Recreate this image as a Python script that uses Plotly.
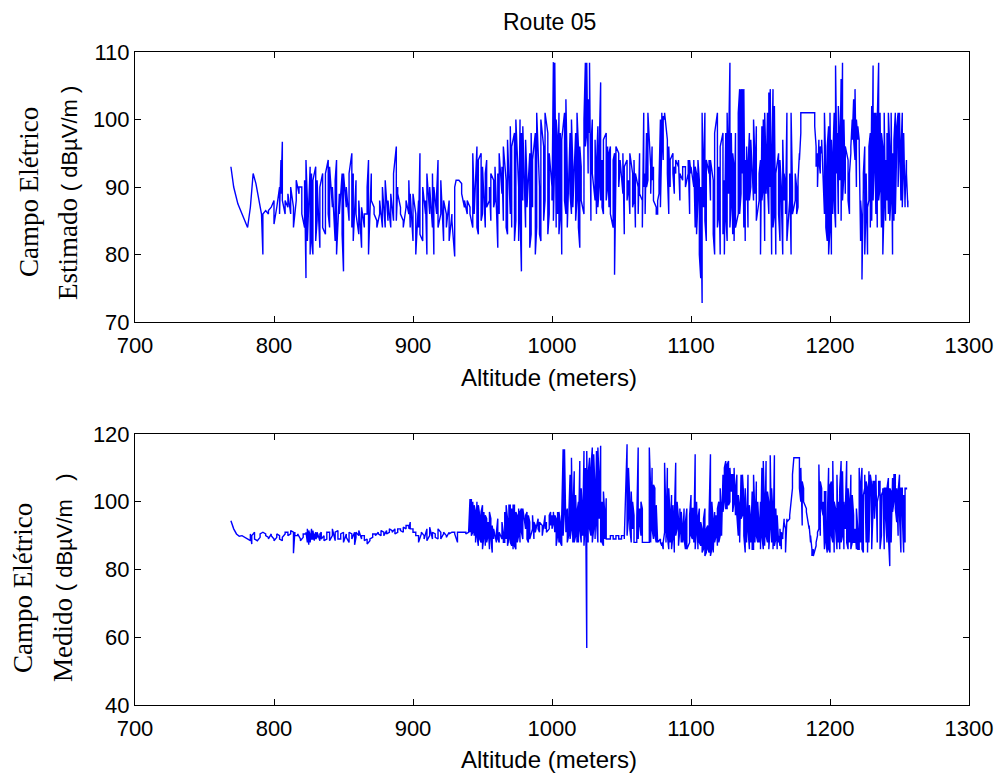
import plotly.graph_objects as go

# ---------------- Data ----------------
# Top panel: estimated field. Each altitude carries two successive readings.
alt_est = [
    769, 771, 774, 777, 780, 781, 783, 785, 787, 789,
    791, 792, 794, 796, 798, 800, 802, 804, 805, 806,
    808, 810, 812, 814, 816, 818, 820, 822, 823, 824,
    826, 827, 828, 830, 831, 833, 835, 837, 839, 840,
    842, 844, 845, 847, 849, 850, 852, 854, 856, 857,
    859, 861, 863, 865, 867, 868, 870, 872, 874, 876,
    878, 880, 882, 884, 886, 888, 889, 891, 893, 895,
    897, 898, 900, 902, 904, 905, 907, 909, 910, 912,
    914, 915, 917, 918, 920, 922, 924, 926, 928, 930,
    931, 933, 935, 937, 939, 941, 943, 944, 946, 947,
    949, 950, 952, 953, 955, 956, 958, 959, 961, 962,
    964, 965, 967, 968, 970, 971, 973, 974, 976, 977,
    978, 979, 981, 982, 984, 985, 986, 988, 989, 991,
    992, 994, 995, 997, 998, 1000, 1001, 1002, 1003, 1004,
    1005, 1006, 1007, 1009, 1010, 1011, 1013, 1014, 1015, 1017,
    1018, 1019, 1020, 1021, 1023, 1024, 1025, 1026, 1027, 1028,
    1029, 1031, 1032, 1033, 1034, 1035, 1036, 1037, 1039, 1040,
    1041, 1042, 1044, 1045, 1046, 1048, 1049, 1051, 1052, 1054,
    1055, 1056, 1058, 1059, 1060, 1062, 1063, 1065, 1066, 1067,
    1068, 1069, 1071, 1072, 1073, 1075, 1076, 1077, 1078, 1079,
    1080, 1081, 1083, 1084, 1085, 1087, 1088, 1089, 1091, 1092,
    1094, 1096, 1098, 1099, 1100, 1102, 1103, 1104, 1105, 1106,
    1107, 1108, 1109, 1110, 1111, 1113, 1114, 1116, 1117, 1119,
    1120, 1121, 1123, 1124, 1125, 1126, 1127, 1128, 1129, 1130,
    1131, 1132, 1134, 1135, 1136, 1137, 1138, 1139, 1140, 1141,
    1142, 1143, 1145, 1146, 1147, 1149, 1150, 1151, 1152, 1153,
    1154, 1155, 1156, 1157, 1158, 1159, 1160, 1161, 1163, 1164,
    1165, 1166, 1167, 1168, 1169, 1171, 1172, 1173, 1175, 1176,
    1177, 1178, 1179, 1181, 1183, 1185, 1187, 1189, 1190, 1191,
    1192, 1193, 1194, 1196, 1197, 1198, 1199, 1200, 1201, 1202,
    1203, 1204, 1205, 1206, 1207, 1208, 1209, 1210, 1211, 1213,
    1214, 1215, 1216, 1217, 1218, 1219, 1220, 1221, 1222, 1223,
    1224, 1225, 1226, 1227, 1228, 1229, 1230, 1231, 1232, 1233,
    1234, 1235, 1236, 1237, 1238, 1239, 1240, 1241, 1242, 1243,
    1244, 1245, 1246, 1247, 1248, 1249, 1250, 1251, 1252, 1253,
    1254, 1255, 1256,
]
campo_est = [
    93, 93, 90, 90, 87.5, 87.5, 86, 86, 84.5, 84.5, 84, 84, 87, 87, 92, 92, 90.5, 90.5, 88, 88,
    86, 86, 80, 86, 86.5, 86.5, 86, 86.5, 87, 87, 88, 84.5, 87, 87, 90, 86, 94, 89, 96.7, 88,
    86, 88, 87, 89, 86, 90, 87, 84, 88, 91, 89, 90, 90, 86, 84, 91, 76.5, 94, 88, 82,
    93, 80, 92, 82, 80, 91, 93, 82, 85, 91, 81, 90, 92, 84, 83, 92, 94, 86, 84, 93,
    87, 90, 82, 91, 94, 80, 89, 86, 92, 83, 77.5, 92, 87, 90, 85, 92, 95, 84, 92, 82,
    91, 86, 83, 88, 81, 87, 84, 86, 86, 90, 94, 80, 92, 88, 87, 86, 85, 84, 86, 88,
    84, 90, 84, 91, 85, 88, 84, 89, 85, 92, 96, 85, 90, 89, 87, 86, 85, 84, 87, 88,
    86, 91, 84, 89, 82, 89, 86, 80, 88, 84, 95, 83, 82, 90, 86, 88, 80, 92, 86, 90,
    84, 92, 80, 90, 86, 89, 94, 84, 86, 91, 82, 88, 86, 84, 88, 82, 86, 85, 79.7, 90,
    91, 91, 91, 91, 90.5, 89, 87, 88, 86, 88, 87, 86, 84, 95, 88, 86, 96, 84, 83, 94,
    95, 85, 86, 93, 84, 92, 94, 87, 88, 90, 85, 92, 91, 87, 88, 93, 81, 92, 86, 95,
    89, 93, 85, 96, 91, 84, 83, 97, 86, 99, 84, 96, 98, 82, 85, 100, 90, 82, 100, 86,
    77.5, 98, 88, 99, 84, 97, 91, 87, 95, 81, 83, 98, 87, 94, 98, 80, 84, 101, 90, 83,
    82, 100, 96, 85, 88, 101, 98, 83, 86, 95, 90, 88, 108.5, 85, 95, 108.4, 84, 100, 97, 86,
    101, 83, 86, 98, 80, 97, 101, 88, 86, 103, 92, 84, 98, 89, 86, 100, 93, 87, 98, 85,
    88, 101, 96, 84, 81, 96, 93, 88, 86, 100, 108.4, 96, 98, 108.4, 92, 103, 98, 108.4, 85, 96,
    100, 92, 88, 97, 86, 93, 99, 87, 90, 96, 105.5, 88, 94, 87, 86, 97, 98, 88, 90, 96,
    87, 95, 96, 86, 84, 94, 95, 77, 92, 96, 95, 90, 93, 94, 89, 95, 83, 93, 94, 88,
    90, 91, 86, 95, 92, 87, 88, 94, 84, 92, 90, 86, 95, 89, 88, 84, 101, 90, 92, 86,
    98, 90, 91, 101, 93, 89, 96, 91, 93, 88, 87, 86, 86, 88, 89, 91, 100, 87, 97, 101,
    94, 100.5, 100, 101, 97, 92, 86, 96, 90, 94, 95, 92, 89, 93, 92, 94, 93, 94, 88, 92,
    91, 93, 93, 90, 92, 94, 86, 94, 92, 93, 90, 94, 84, 93, 92, 83, 88, 94, 91, 80,
    76.5, 90, 72.8, 101, 87, 92, 101, 85, 82, 94, 92, 94, 88, 94, 91, 83, 80, 98, 101, 84,
    86, 93, 80, 96, 98, 83, 91, 80, 98, 86, 82, 101, 89, 95, 108.4, 84, 88, 98, 83, 95,
    93, 82, 98, 84, 86, 101, 104.5, 86, 89, 104.5, 92, 104.5, 84, 104.5, 82, 94, 88, 96, 84, 93,
    98, 88, 90, 97, 88, 100, 94, 89, 99, 85, 88, 92, 94, 80, 99, 88, 90, 100, 82, 101,
    93, 89, 101, 90, 86, 104, 90, 104.5, 80, 92, 104.5, 84, 86, 102, 80, 92, 95, 86, 82, 94,
    90, 88, 80, 97, 88, 92, 90, 86, 101, 82, 88, 92, 80, 101, 90, 86, 88, 92, 90, 86,
    87, 91, 95, 94, 98, 101, 101, 101, 101, 101, 101, 101, 101, 101, 101, 99, 96, 93, 95, 90,
    97, 94, 92, 96, 95, 97, 86, 101, 93, 84, 82, 96, 99, 80, 84, 101, 80, 97, 86, 94,
    101, 88, 84, 108, 92, 98, 86, 102, 96, 91, 106, 85, 108.4, 88, 92, 100, 89, 96, 94, 88,
    86, 92, 95, 96, 100, 97, 103, 97, 94, 104.5, 90, 100, 97, 99, 97, 96, 82, 88, 85, 76.3,
    90, 92, 96, 80, 88, 92, 80, 87, 88, 96, 98, 84, 102, 85, 108, 88, 95, 101, 86, 101,
    84, 100, 108.4, 88, 90, 101, 84, 98, 96, 80, 88, 101, 85, 94, 88, 98, 86, 101, 96, 85,
    89, 101, 80, 95, 85, 97, 101, 86, 96, 99, 101, 90, 97, 101, 88, 95, 101, 87, 94, 98,
    87, 88, 94, 92, 87, 88,
]

# Bottom panel: measured field. Each altitude carries two successive readings.
alt_med = [
    769, 771, 773, 775, 777, 779, 781, 783, 784, 786,
    788, 790, 792, 794, 796, 798, 800, 802, 804, 806,
    808, 810, 812, 814, 815, 817, 819, 821, 823, 824,
    825, 826, 827, 828, 829, 830, 831, 833, 834, 836,
    838, 840, 842, 844, 846, 848, 850, 852, 854, 856,
    858, 859, 861, 863, 865, 867, 869, 871, 873, 875,
    877, 879, 881, 883, 885, 887, 889, 891, 893, 895,
    897, 898, 900, 902, 904, 906, 908, 910, 912, 914,
    916, 918, 920, 922, 924, 926, 928, 930, 932, 934,
    936, 938, 940, 941, 942, 943, 944, 945, 946, 947,
    948, 949, 950, 951, 952, 953, 954, 955, 956, 957,
    958, 960, 961, 962, 964, 965, 966, 967, 968, 969,
    970, 971, 972, 973, 974, 975, 976, 977, 978, 979,
    981, 982, 983, 984, 986, 987, 988, 990, 991, 993,
    995, 996, 998, 999, 1000, 1001, 1002, 1003, 1004, 1005,
    1006, 1007, 1008, 1009, 1010, 1011, 1012, 1013, 1014, 1015,
    1016, 1017, 1018, 1019, 1020, 1021, 1022, 1023, 1024, 1025,
    1026, 1027, 1028, 1029, 1030, 1031, 1032, 1033, 1034, 1035,
    1036, 1037, 1038, 1039, 1040, 1042, 1044, 1046, 1048, 1050,
    1052, 1054, 1055, 1056, 1057, 1058, 1059, 1061, 1062, 1063,
    1064, 1065, 1066, 1068, 1070, 1071, 1072, 1073, 1074, 1075,
    1076, 1078, 1079, 1080, 1081, 1082, 1083, 1084, 1085, 1086,
    1087, 1088, 1089, 1090, 1091, 1092, 1093, 1094, 1095, 1096,
    1097, 1099, 1100, 1101, 1102, 1103, 1104, 1105, 1106, 1107,
    1108, 1109, 1110, 1111, 1112, 1113, 1114, 1115, 1116, 1117,
    1118, 1119, 1120, 1121, 1122, 1123, 1124, 1125, 1126, 1127,
    1128, 1129, 1130, 1131, 1132, 1133, 1134, 1135, 1136, 1137,
    1138, 1139, 1140, 1141, 1142, 1143, 1144, 1145, 1146, 1147,
    1148, 1149, 1150, 1151, 1152, 1153, 1154, 1155, 1156, 1157,
    1158, 1159, 1160, 1161, 1162, 1163, 1164, 1165, 1166, 1167,
    1168, 1169, 1171, 1173, 1174, 1176, 1178, 1179, 1180, 1181,
    1183, 1185, 1186, 1187, 1188, 1190, 1191, 1192, 1193, 1194,
    1195, 1196, 1197, 1198, 1199, 1200, 1201, 1202, 1203, 1204,
    1205, 1206, 1207, 1208, 1209, 1210, 1211, 1212, 1213, 1214,
    1215, 1216, 1217, 1218, 1219, 1220, 1221, 1222, 1223, 1224,
    1225, 1226, 1227, 1228, 1229, 1230, 1231, 1232, 1233, 1234,
    1235, 1236, 1237, 1238, 1239, 1240, 1241, 1242, 1243, 1244,
    1245, 1246, 1247, 1248, 1249, 1250, 1251, 1252, 1253, 1254,
    1255,
]
campo_med = [
    94.4, 94.4, 92, 92, 90.5, 90.5, 89.8, 89.8, 90, 90, 89.5, 89.5, 89, 89, 88.5, 90.5, 87.5, 90, 91, 89,
    88.5, 88.5, 89.5, 90.5, 91, 91, 90.5, 90, 89.5, 89, 90.5, 90, 89, 88.5, 89.5, 90.5, 90, 89, 88.5, 89.5,
    90.5, 91, 91, 90, 90.5, 91.5, 91, 84.8, 91.1, 90, 90, 90.5, 89, 88.5, 89.5, 90.5, 90.5, 91, 88, 92,
    87.3, 91.5, 90, 88, 92, 89, 89, 91.5, 88.5, 90, 91, 89, 89.5, 91, 88.5, 90.5, 91, 89, 90, 88.5,
    89, 91, 91, 88.5, 90, 92, 88.5, 91, 91.5, 89, 89, 90.5, 91, 88, 90.5, 89.5, 88, 91, 90.5, 89,
    91, 87.3, 89.5, 91, 90, 91.5, 89, 90, 90, 88.5, 89, 87.5, 88.5, 89, 89.5, 90.5, 90.5, 90, 91, 90.5,
    90, 91.5, 91, 90, 91.5, 90.5, 91, 92, 91.5, 91, 92, 90.5, 91, 92, 92, 91.5, 91, 92.5, 92, 93,
    93, 92, 94, 92, 92, 91, 91, 90, 90, 88, 90.5, 91, 90, 89, 92, 88.5, 90, 92.5, 89, 91,
    90.5, 89.5, 89, 92, 91, 89, 90.5, 91, 90, 89.5, 91, 90.5, 91, 91, 91, 90.5, 88, 91, 91, 91,
    91, 91, 91, 90.5, 91, 91, 100.8, 91, 100.8, 90, 91, 100, 90, 99, 97, 88, 100, 90, 87, 99,
    96, 89, 88, 97, 99, 86, 90, 97, 87, 96, 95, 88, 90, 94, 86, 97, 95, 89, 85, 93,
    89, 92, 88, 91, 95, 89, 88, 91, 89, 94, 91, 88, 88, 97, 89, 99, 95, 87, 89, 99,
    99, 88, 87, 98, 86, 99, 99, 87, 86, 97, 96, 88, 90, 98, 88, 97, 98, 91, 89, 98,
    92, 96, 97, 89, 88, 96, 94, 89, 92, 96, 89, 94, 93, 91, 95, 92, 91, 94, 93, 90,
    96, 92, 94, 91, 92, 96, 97, 93, 96, 92, 94, 97, 91, 96, 95, 87, 90, 97, 88, 97,
    94, 88, 87, 96, 115.5, 90, 98, 115.5, 91, 96, 98, 88, 90, 95, 108, 89, 92, 113, 88, 96,
    109, 88, 90, 102, 88, 97, 100, 88, 112, 92, 88, 104, 95, 90, 115, 87, 95, 110, 56.8, 115,
    88, 108, 113, 92, 90, 110, 116, 88, 92, 114, 103, 89, 115, 94, 88, 116, 105, 95, 116.5, 88,
    100, 88, 87, 103, 96, 89, 101, 89, 89, 89, 89, 90, 90, 89, 89, 90, 90, 89, 89, 90,
    90, 89, 117, 90, 95, 110, 100, 92, 88, 103, 92, 100, 96, 88, 88, 95, 116, 89, 98, 95,
    90, 100, 98, 88, 88, 88, 88, 88, 88, 116, 103, 88, 110, 92, 89, 105, 104, 90, 88, 99,
    91, 88, 89, 88, 87, 88, 86, 88, 91, 111.5, 95, 88, 110, 90, 86, 104, 95, 88, 102, 86,
    90, 99, 85, 95, 111.5, 90, 92, 100, 95, 87, 92, 98, 88, 97, 91, 88, 98, 89, 86, 94,
    98, 86, 88, 96, 102, 90, 89, 98, 98, 88, 114, 86, 92, 100, 86, 95, 98, 88, 87, 94,
    92, 85, 86, 95, 98, 84, 85, 92, 93, 86, 85, 96, 114, 84, 86, 100, 94, 85, 97, 88,
    90, 96, 87, 98, 100, 88, 90, 104, 96, 90, 108, 97, 100, 110, 112, 98, 98, 111, 112, 99,
    100, 110, 103, 108, 108, 97, 100, 110, 96, 103, 108, 96, 90, 102, 98, 88, 108, 95, 96, 108,
    101, 90, 85, 104, 92, 88, 108, 92, 86, 99, 94, 88, 103, 86, 86, 108, 96, 88, 106, 90,
    88, 100, 92, 88, 100, 86, 110, 90, 86, 112, 96, 87, 112, 90, 88, 103, 100, 86, 93, 113.7,
    88, 104, 96, 86, 113.7, 87, 89, 98, 86, 96, 88, 90, 87, 92, 86, 91, 89, 90, 95, 94,
    92, 85, 95, 94, 95, 96, 104, 108, 113, 113, 113, 113, 113, 104, 100, 110, 93, 106, 104, 100,
    98, 97, 92, 93, 88, 90, 86, 84, 86, 84, 87, 88, 90, 91, 92, 111, 90, 106, 104, 98,
    96, 100, 86, 103, 103, 88, 85, 94, 110, 86, 85, 105, 106, 90, 88, 112, 85, 100, 98, 92,
    86, 108, 88, 100, 86, 104, 112, 88, 90, 109, 86, 100, 92, 97, 112, 88, 86, 104, 99, 88,
    108, 86, 88, 102, 96, 88, 88, 92, 86, 98, 92, 86, 86, 110, 88, 105, 110, 86, 85, 102,
    104, 108, 88, 106, 104, 85, 109, 88, 102, 108, 105, 86, 98, 106, 106, 95, 104, 108, 88, 100,
    102, 106, 106, 86, 90, 102, 103, 104, 86, 104, 104, 95, 88, 104, 107, 90, 81, 104, 103, 88,
    107, 97, 100, 108, 108, 98, 94, 104, 90, 103, 108, 96, 85, 104, 104, 96, 85, 102, 88, 104,
    104, 103.6,
]

x_ticks = [700, 800, 900, 1000, 1100, 1200, 1300]
y_ticks_est = [70, 80, 90, 100, 110]
y_ticks_med = [40, 60, 80, 100, 120]

if len(campo_est) != 2 * len(alt_est):
    raise ValueError(f"est mismatch {len(alt_est)} alts vs {len(campo_est)} values")
if len(campo_med) != 2 * len(alt_med):
    raise ValueError(f"med mismatch {len(alt_med)} alts vs {len(campo_med)} values")


def expand(alts):
    out = []
    for a in alts:
        out.extend([a, a])
    return out


W, H = 999, 774
BLUE = "#0000ff"
SANS = "Liberation Sans, Arial, sans-serif"
SERIF = "Liberation Serif, Times New Roman, serif"

fig = go.Figure()
fig.add_trace(go.Scatter(x=expand(alt_est), y=campo_est, mode="lines",
                         line=dict(color=BLUE, width=1.4), xaxis="x", yaxis="y",
                         showlegend=False))
fig.add_trace(go.Scatter(x=expand(alt_med), y=campo_med, mode="lines",
                         line=dict(color=BLUE, width=1.4), xaxis="x2", yaxis="y2",
                         showlegend=False))


def px_x(p):
    return p / W


def px_y(p):
    return 1 - p / H


axis_common = dict(showline=True, linecolor="black", linewidth=1, mirror="ticks",
                   ticks="inside", ticklen=6, tickcolor="black", tickwidth=1,
                   showgrid=False, zeroline=False, automargin=False,
                   tickfont=dict(family=SANS, size=22, color="black"))

fig.update_layout(
    width=W, height=H, autosize=False,
    margin=dict(l=0, r=0, t=0, b=0, pad=0),
    paper_bgcolor="white", plot_bgcolor="white",
    xaxis=dict(domain=[px_x(135), px_x(969)], range=[700, 1300], tickvals=x_ticks,
               anchor="y", ticklabelstandoff=4, **axis_common),
    yaxis=dict(domain=[px_y(322), px_y(52)], range=[70, 110], tickvals=y_ticks_est,
               anchor="x", **axis_common),
    xaxis2=dict(domain=[px_x(135), px_x(969)], range=[700, 1300], tickvals=x_ticks,
                anchor="y2", ticklabelstandoff=4, **axis_common),
    yaxis2=dict(domain=[px_y(705), px_y(434)], range=[40, 120], tickvals=y_ticks_med,
                anchor="x2", **axis_common),
)

ann = []
ann.append(dict(text="Route 05", x=px_x(549), y=px_y(22), xref="paper", yref="paper",
                showarrow=False, font=dict(family=SANS, size=23, color="black"),
                xanchor="center", yanchor="middle"))
ann.append(dict(text="Altitude (meters)", x=px_x(549), y=px_y(377), xref="paper", yref="paper",
                showarrow=False, font=dict(family=SANS, size=24, color="black"),
                xanchor="center", yanchor="middle"))
ann.append(dict(text="Altitude (meters)", x=px_x(549), y=px_y(759), xref="paper", yref="paper",
                showarrow=False, font=dict(family=SANS, size=24, color="black"),
                xanchor="center", yanchor="middle"))

span = "<span style='font-family:Liberation Sans, Arial, sans-serif;font-size:22px'>"
ann.append(dict(text="Campo Elétrico", x=px_x(29), y=px_y(192), xref="paper", yref="paper",
                showarrow=False, textangle=-90, font=dict(family=SERIF, size=27, color="black"),
                xanchor="center", yanchor="middle"))
ann.append(dict(text="Estimado " + span + "( dBµV/m )</span>", x=px_x(68), y=px_y(193),
                xref="paper", yref="paper", showarrow=False, textangle=-90,
                font=dict(family=SERIF, size=27, color="black"),
                xanchor="center", yanchor="middle"))
ann.append(dict(text="Campo Elétrico", x=px_x(23), y=px_y(588), xref="paper", yref="paper",
                showarrow=False, textangle=-90, font=dict(family=SERIF, size=27, color="black"),
                xanchor="center", yanchor="middle"))
ann.append(dict(text="Medido " + span + "( dBµV/m &nbsp; )</span>", x=px_x(63), y=px_y(577),
                xref="paper", yref="paper", showarrow=False, textangle=-90,
                font=dict(family=SERIF, size=27, color="black"),
                xanchor="center", yanchor="middle"))
fig.update_layout(annotations=ann)

fig.write_html("out.html")
